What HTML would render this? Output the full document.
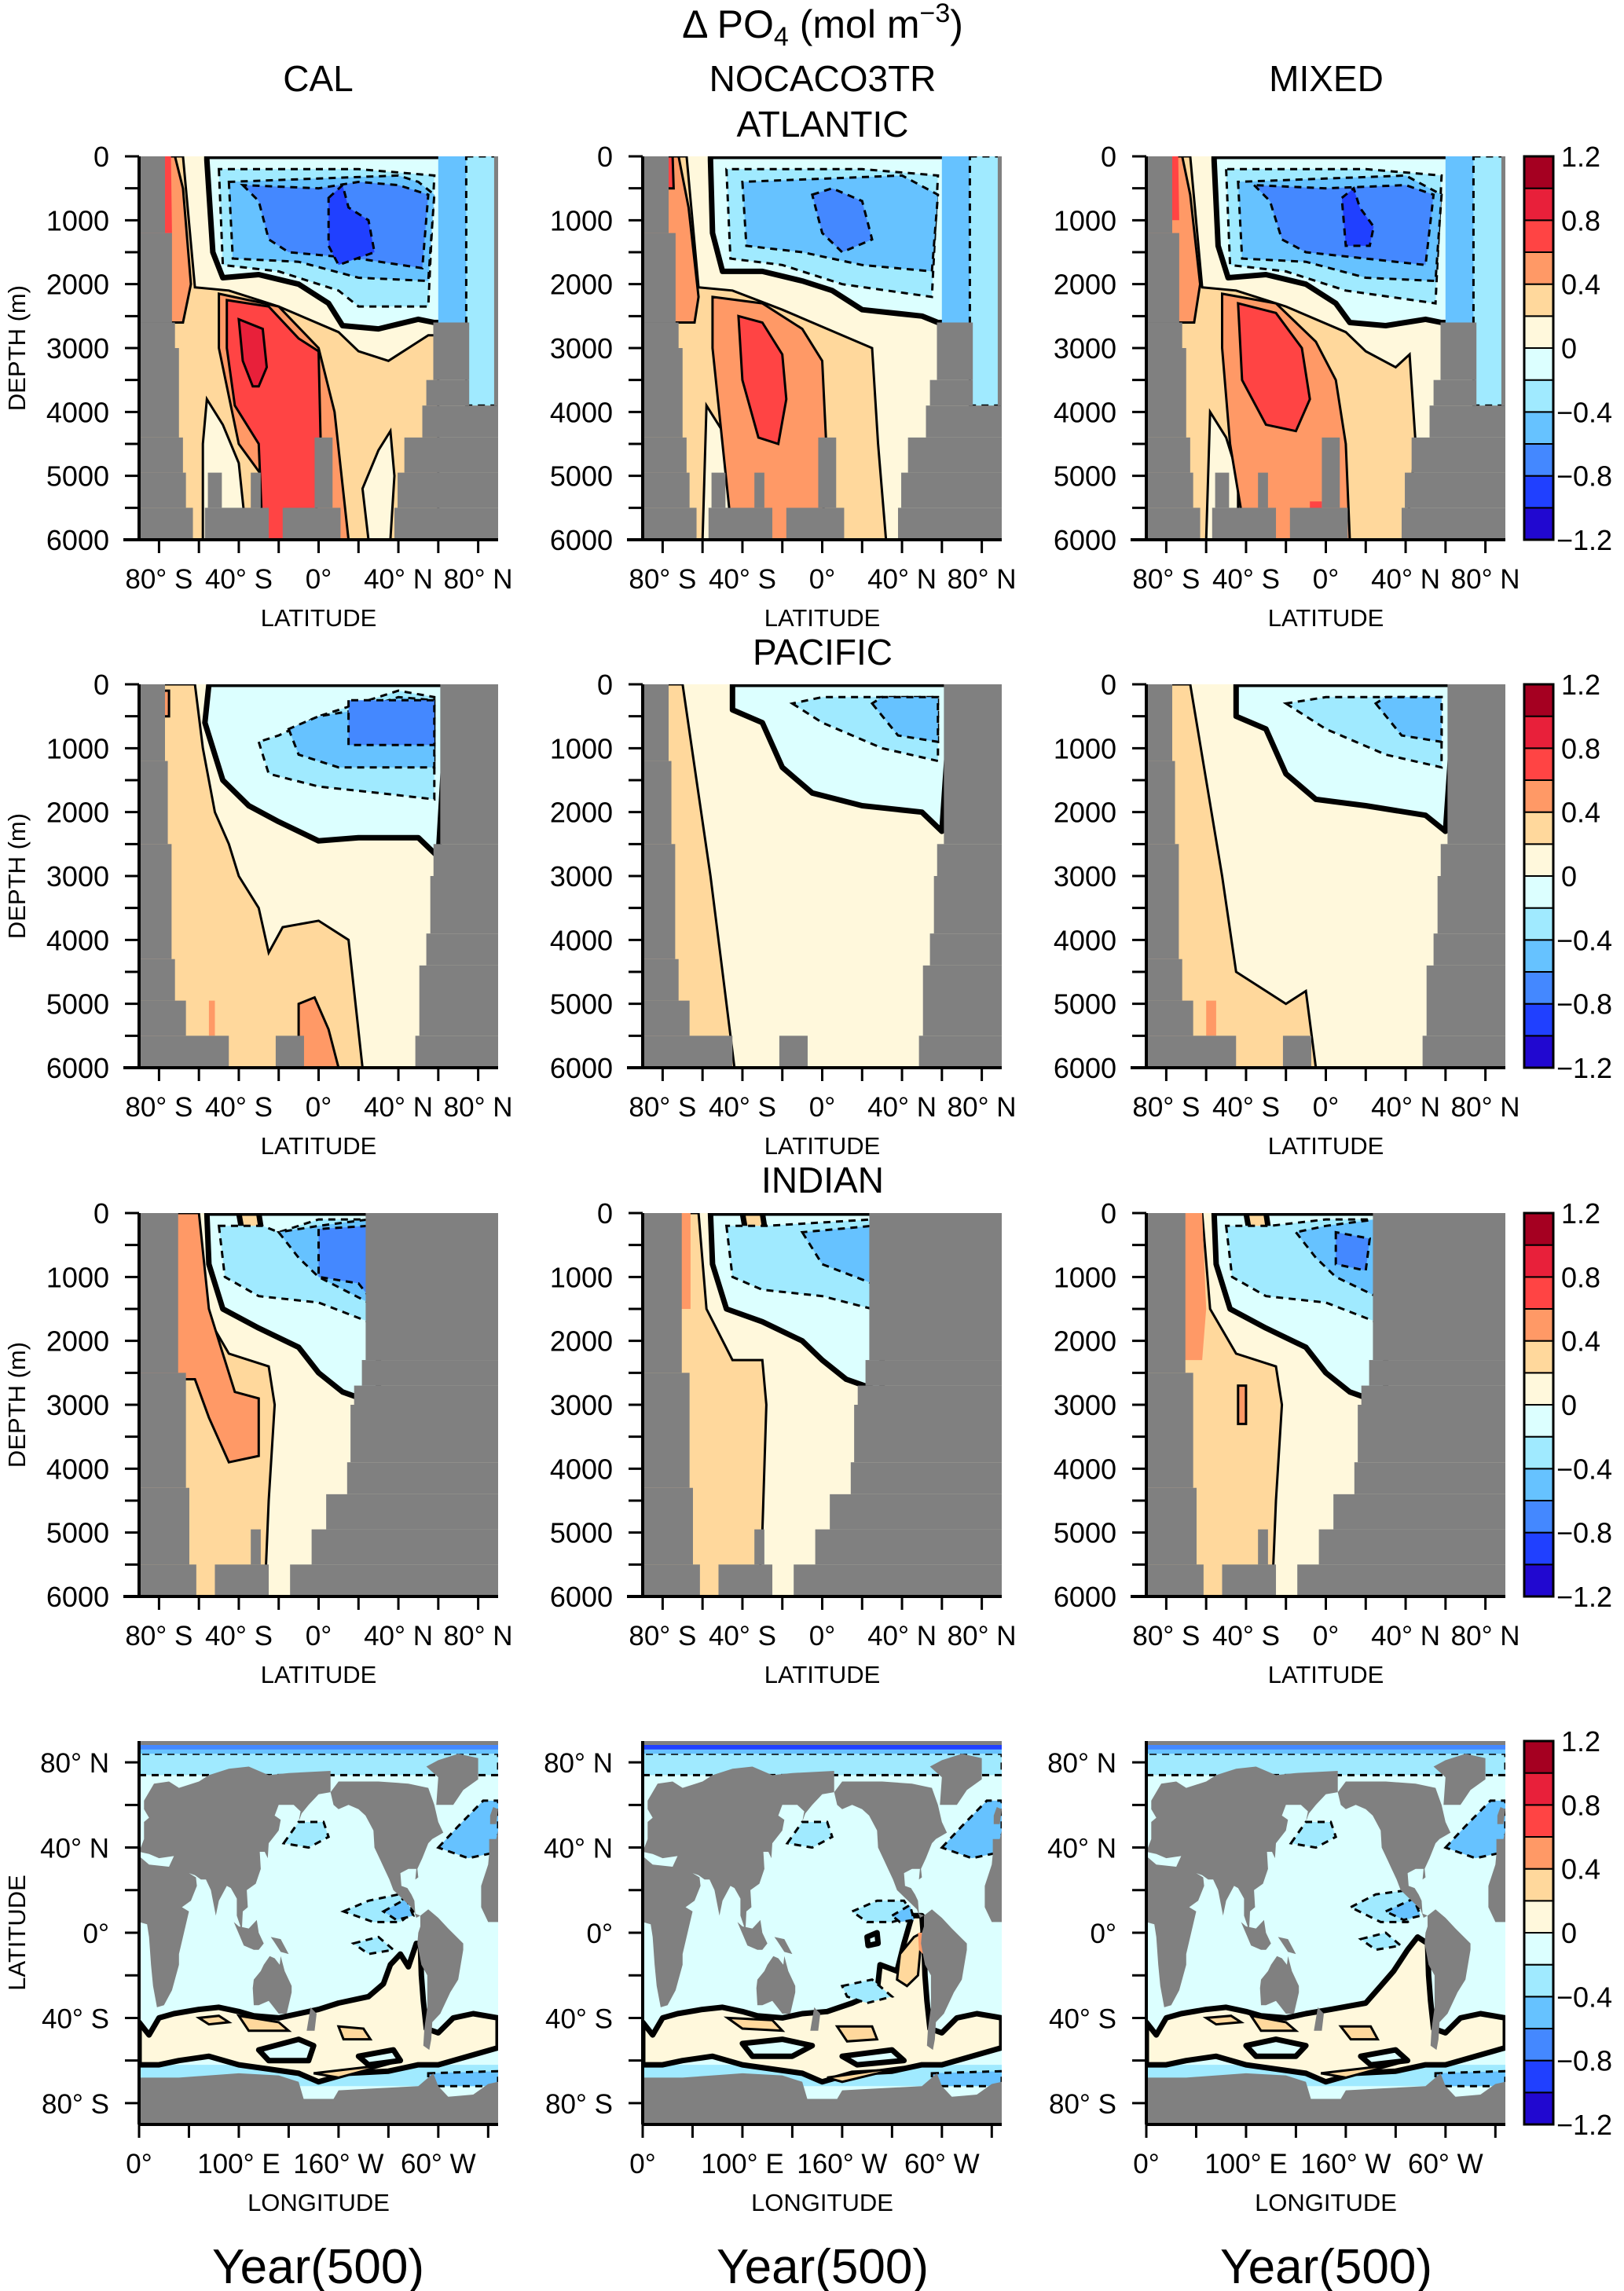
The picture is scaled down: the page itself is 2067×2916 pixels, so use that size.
<!DOCTYPE html>
<html><head><meta charset="utf-8"><title>Delta PO4</title>
<style>
html,body{margin:0;padding:0;background:#fff;}
svg{display:block;font-family:"Liberation Sans",sans-serif;}
</style></head>
<body>
<svg id="fig" width="2067" height="2916" viewBox="0 0 2067 2916" xmlns="http://www.w3.org/2000/svg">
<text x="1047" y="48" font-size="50" text-anchor="middle">Δ PO<tspan font-size="34" dy="10">4</tspan><tspan dy="-10"> (mol m</tspan><tspan font-size="34" dy="-20">−3</tspan><tspan dy="20">)</tspan></text>
<text x="405" y="116" font-size="46" text-anchor="middle">CAL</text>
<text x="1047" y="116" font-size="46" text-anchor="middle">NOCACO3TR</text>
<text x="1688" y="116" font-size="46" text-anchor="middle">MIXED</text>
<text x="1047" y="174" font-size="46" text-anchor="middle">ATLANTIC</text>
<text x="1047" y="846" font-size="46" text-anchor="middle">PACIFIC</text>
<text x="1047" y="1518" font-size="46" text-anchor="middle">INDIAN</text>
<text x="405" y="2906" font-size="62" text-anchor="middle">Year(500)</text>
<text x="1047" y="2906" font-size="62" text-anchor="middle">Year(500)</text>
<text x="1688" y="2906" font-size="62" text-anchor="middle">Year(500)</text>
</svg>
<script>
// ---------- data ----------
const colorLevels = [-1.2,-1.0,-0.8,-0.6,-0.4,-0.2,0,0.2,0.4,0.6,0.8,1.0,1.2];
const colorList = ['#2108d0','#2040ff','#4488ff','#66c2ff','#a0eaff','#dcffff','#fff8dc','#ffd89c','#ff9966','#ff4444','#e8203a','#a50021'];
const colorbarLabels = ['1.2','0.8','0.4','0','−0.4','−0.8','−1.2'];
const colorbarLabelValues = [1.2,0.8,0.4,0,-0.4,-0.8,-1.2];
const latTickValues = [-80,-60,-40,-20,0,20,40,60,80];
const latLabelValues = [-80,-40,0,40,80];
const latLabels = ['80° S','40° S','0°','40° N','80° N'];
const depthTickValues = [0,500,1000,1500,2000,2500,3000,3500,4000,4500,5000,5500,6000];
const depthLabelValues = [0,1000,2000,3000,4000,5000,6000];
const lonTickValues = [0,50,100,150,200,250,300,350];
const lonLabelValues = [0,100,200,300];
const lonLabels = ['0°','100° E','160° W','60° W'];
const mapLatLabelValues = [80,40,0,-40,-80];
const mapLatLabels = ['80° N','40° N','0°','40° S','80° S'];

// land masks for sections: [lat0, lat1, depth0, depth1]
const landAtlantic = [[-90,-77,0,1200],[-90,-73.5,1200,2600],[-90,-72,2600,3000],[-90,-70,3000,4400],[-90,-68,4400,4950],[-90,-66.5,4950,5500],[-90,-63,5500,6000],
 [-57,-25,5500,6000],[-55.5,-48.5,4950,5500],[-34,-29,4950,5500],[-18,11,5500,6000],[-2,7,4400,5500],
 [38,90,5500,6000],[39.6,90,4950,5500],[43,90,4400,4950],[52,90,3900,4400],[54,75.5,3500,3900],[57.5,75.5,2600,3500],[88,90,0,3900]];
const landPacific = [[-90,-77,0,1200],[-90,-75.6,1200,2500],[-90,-73.7,2500,4300],[-90,-72,4300,4950],[-90,-66.5,4950,5500],[-90,-45,5500,6000],[-21.5,-7.3,5500,6000],
 [48.5,90,5500,6000],[50.5,90,4400,5500],[54,90,3900,4400],[56,90,3000,3900],[57.6,90,2500,3000],[61,90,0,2500]];
const landIndian = [[-90,-70.4,0,2500],[-90,-66.5,2500,4300],[-90,-64.8,4300,5500],[-90,-61.3,5500,6000],[-52,-25,5500,6000],[-34,-29,4950,5500],
 [-14.3,90,5500,6000],[-3.5,90,4950,5500],[3.8,90,4400,4950],[14.3,90,3900,4400],[16,90,3000,3900],[17.8,90,2700,3000],[21.7,90,2300,2700],[23.6,90,0,2300]];

// field regions: [colorIndex, lineStyle, points(lat,depth)]  lineStyle: 0 none,1 thin,2 dashed,3 thick
const atlCal = [
 [7,1,[[-90,0],[-68,0],[-62,2050],[-45,2100],[-20,2350],[10,2750],[20,3050],[35,3200],[45,3000],[55,2800],[60,2800],[60,6000],[-90,6000]]],
 [6,1,[[-56,3800],[-48,4200],[-40,4800],[-36,6000],[-58,6000],[-58,4500]]],
 [6,1,[[22,5200],[30,4600],[36,4300],[38,5000],[36,6000],[25,6000]]],
 [8,1,[[-90,0],[-72,0],[-68,500],[-64,2000],[-68,2600],[-90,2600]]],
 [8,1,[[-50,2150],[-20,2350],[0,3000],[8,4000],[15,6000],[-5,6000],[-40,4500],[-50,3000]]],
 [9,0,[[-90,0],[-74,0],[-73.5,1200],[-90,1200]]],
 [9,1,[[-46,2250],[-25,2350],[-10,2850],[0,3050],[1,4400],[-2,6000],[-28,6000],[-30,4500],[-42,3900],[-46,3000]]],
 [10,1,[[-40,2550],[-28,2700],[-26,3300],[-30,3600],[-33,3600],[-38,3200]]],
 [5,3,[[-56,60],[-53,1500],[-48,1900],[-30,1850],[-10,2000],[5,2300],[12,2650],[30,2700],[50,2550],[58,2600],[95,2600],[95,0],[-56,0]]],
 [4,2,[[-50,200],[-48,1700],[-20,1800],[10,2100],[20,2350],[55,2350],[58,300],[20,200]]],
 [3,2,[[-45,400],[-43,1600],[-10,1650],[20,1900],[55,1950],[58,600],[50,400],[40,300]]],
 [3,0,[[60,0],[95,0],[95,2600],[60,2600]]],
 [4,2,[[74,0],[95,0],[95,3900],[74,3900]]],
 [2,2,[[-38,450],[-30,700],[-25,1300],[-15,1500],[20,1600],[52,1750],[55,600],[40,450],[20,400],[0,500]]],
 [1,2,[[5,650],[12,450],[15,800],[25,1000],[28,1500],[10,1700],[5,1400]]]
];
const atlNoc = [
 [7,1,[[-90,0],[-68,0],[-62,2050],[-45,2100],[-20,2400],[10,2800],[25,3000],[28,4500],[32,6000],[-90,6000]]],
 [6,1,[[-58,3900],[-50,4300],[-45,5000],[-46,6000],[-60,6000]]],
 [8,1,[[-90,0],[-72,0],[-67,800],[-62,2200],[-64,2600],[-90,2600]]],
 [8,1,[[-55,2200],[-30,2300],[-10,2700],[0,3200],[2,4500],[0,6000],[-45,6000],[-50,4500],[-55,3000]]],
 [9,1,[[-90,0],[-75,0],[-74.5,500],[-90,500]]],
 [9,1,[[-42,2500],[-30,2600],[-20,3100],[-18,3800],[-22,4500],[-32,4400],[-40,3500]]],
 [5,3,[[-56,60],[-55,1200],[-50,1800],[-30,1800],[-10,1950],[5,2100],[20,2400],[50,2500],[58,2600],[95,2600],[95,0],[-56,0]]],
 [4,2,[[-48,200],[-46,1600],[-20,1700],[10,2000],[55,2200],[58,300],[20,200]]],
 [3,2,[[-40,400],[-38,1400],[-10,1500],[20,1700],[55,1800],[58,600],[40,300]]],
 [3,0,[[60,0],[95,0],[95,2600],[60,2600]]],
 [4,2,[[74,0],[95,0],[95,3900],[74,3900]]],
 [2,2,[[-5,600],[5,500],[20,700],[25,1300],[10,1500],[0,1200]]]
];
const atlMix = [
 [7,1,[[-90,0],[-68,0],[-62,2050],[-45,2100],[-20,2350],[10,2750],[20,3050],[35,3300],[42,3100],[45,4500],[40,6000],[-90,6000]]],
 [6,1,[[-58,4000],[-50,4400],[-44,5000],[-44,6000],[-60,6000]]],
 [8,1,[[-90,0],[-72,0],[-68,600],[-63,2000],[-66,2600],[-90,2600]]],
 [8,1,[[-52,2150],[-25,2300],[-5,2900],[5,3500],[10,4500],[12,6000],[-40,6000],[-48,4500],[-52,3000]]],
 [9,0,[[-90,0],[-74,0],[-73.5,1000],[-90,1000]]],
 [9,1,[[-44,2300],[-25,2450],[-12,3000],[-8,3800],[-15,4300],[-30,4200],[-42,3500]]],
 [9,0,[[-8,5400],[-2,5400],[-2,6000],[-8,6000]]],
 [5,3,[[-56,60],[-54,1400],[-49,1900],[-30,1850],[-10,2000],[5,2300],[12,2600],[30,2650],[50,2550],[58,2600],[95,2600],[95,0],[-56,0]]],
 [4,2,[[-50,200],[-48,1700],[-20,1800],[10,2100],[55,2300],[58,300],[20,200]]],
 [3,2,[[-44,400],[-42,1600],[-10,1650],[20,1900],[55,1950],[58,600],[40,300]]],
 [3,0,[[60,0],[95,0],[95,2600],[60,2600]]],
 [4,2,[[74,0],[95,0],[95,3900],[74,3900]]],
 [2,2,[[-36,450],[-28,700],[-22,1300],[-10,1500],[20,1600],[50,1700],[54,600],[40,450],[0,500]]],
 [1,2,[[8,650],[14,500],[17,800],[24,1100],[22,1400],[10,1400]]]
];
const pacCal = [
 [7,1,[[-90,0],[-62,0],[-58,1000],[-52,2000],[-45,2500],[-40,3000],[-30,3500],[-25,4200],[-18,3800],[0,3700],[15,4000],[22,6000],[-90,6000]]],
 [8,1,[[-10,5000],[-2,4900],[5,5400],[10,6000],[-10,6000]]],
 [8,0,[[-55,4950],[-52,4950],[-52,5500],[-55,5500]]],
 [8,1,[[-80,100],[-75,100],[-75,500],[-80,500]]],
 [5,3,[[-55,0],[-57,600],[-48,1500],[-35,1900],[-20,2150],[0,2450],[20,2400],[50,2400],[60,2700],[65,0]]],
 [4,2,[[-30,900],[-25,1400],[0,1600],[30,1700],[58,1800],[58,200],[40,100],[20,300],[0,500],[-20,800]]],
 [3,2,[[-15,700],[-10,1100],[10,1300],[58,1300],[58,250],[40,200],[20,400],[0,500]]],
 [2,2,[[15,250],[15,950],[58,950],[58,250]]]
];
const pacNoc = [
 [7,1,[[-90,0],[-70,0],[-63,1500],[-56,3000],[-50,4500],[-44,6000],[-90,6000]]],
 [5,3,[[-45,0],[-45,400],[-30,600],[-20,1300],[-5,1700],[20,1900],[50,2000],[60,2300],[65,0]]],
 [4,2,[[-15,300],[0,600],[30,1000],[58,1200],[58,200],[0,200]]],
 [3,2,[[25,300],[38,800],[58,900],[58,200],[30,200]]]
];
const pacMix = [
 [7,1,[[-90,0],[-68,0],[-60,1500],[-52,3000],[-45,4500],[-30,4800],[-20,5000],[-10,4800],[-5,6000],[-90,6000]]],
 [8,0,[[-60,4950],[-55,4950],[-55,5500],[-60,5500]]],
 [5,3,[[-45,0],[-45,500],[-30,700],[-20,1400],[-5,1800],[20,1900],[50,2050],[60,2300],[65,0]]],
 [4,2,[[-20,300],[0,700],[30,1100],[58,1300],[58,200],[0,200]]],
 [3,2,[[25,300],[38,800],[58,900],[58,200],[30,200]]]
];
const indCal = [
 [7,1,[[-90,0],[-62,0],[-58,1500],[-45,2200],[-25,2400],[-22,3000],[-25,4500],[-27,6000],[-90,6000]]],
 [8,1,[[-90,0],[-60,0],[-55,1500],[-48,2200],[-42,2800],[-30,2900],[-30,3800],[-45,3900],[-55,3200],[-62,2600],[-90,2600]]],
 [5,3,[[-56,0],[-55,800],[-48,1500],[-30,1800],[-10,2100],[0,2500],[12,2800],[30,3000],[30,0]]],
 [7,3,[[-40,0],[-36,700],[-30,800],[-28,400],[-30,0]]],
 [4,2,[[-50,200],[-47,1000],[-30,1300],[0,1400],[25,1700],[25,100],[0,100],[-20,300],[-28,200]]],
 [3,2,[[-20,300],[-10,700],[0,1000],[25,1400],[25,100],[0,200]]],
 [2,2,[[0,250],[0,1000],[20,1100],[25,1300],[25,200]]]
];
const indNoc = [
 [7,1,[[-90,0],[-62,0],[-58,1500],[-45,2300],[-30,2300],[-28,3000],[-30,5000],[-32,6000],[-90,6000]]],
 [8,0,[[-90,0],[-66,0],[-66,1500],[-90,1500]]],
 [5,3,[[-56,0],[-55,800],[-48,1500],[-30,1700],[-10,2000],[0,2300],[12,2600],[30,2800],[30,0]]],
 [7,3,[[-40,0],[-36,700],[-30,800],[-28,400],[-30,0]]],
 [4,2,[[-48,200],[-45,1000],[-30,1200],[0,1300],[25,1500],[25,100],[-28,200]]],
 [3,2,[[-10,300],[0,800],[25,1100],[25,200]]]
];
const indMix = [
 [7,1,[[-90,0],[-62,0],[-58,1500],[-45,2200],[-25,2400],[-22,3000],[-25,4500],[-27,6000],[-90,6000]]],
 [8,0,[[-90,0],[-62,0],[-60,1500],[-62,2300],[-90,2300]]],
 [8,1,[[-44,2700],[-40,2700],[-40,3300],[-44,3300]]],
 [5,3,[[-56,0],[-55,800],[-48,1500],[-30,1800],[-10,2100],[0,2500],[12,2800],[30,3000],[30,0]]],
 [7,3,[[-40,0],[-36,700],[-30,800],[-28,400],[-30,0]]],
 [4,2,[[-50,200],[-47,1000],[-30,1300],[0,1400],[25,1700],[25,100],[0,100],[-28,200]]],
 [3,2,[[-15,300],[-5,700],[5,1000],[25,1300],[25,100],[0,200]]],
 [2,2,[[5,300],[5,800],[20,900],[22,400]]]
];

// map land polygons (lon 0..360, lat)
const landMap = [
 [[0,5],[8,4],[10,-2],[12,-15],[14,-25],[18,-35],[25,-34],[33,-27],[40,-15],[40,-10],[50,10],[43,12],[52,15],[58,22],[57,26],[50,28],[56,27],[62,25],[67,25],[72,20],[77,8],[80,15],[88,22],[92,21],[98,16],[98,8],[103,1],[104,10],[109,12],[108,20],[117,23],[122,30],[121,38],[126,38],[129,35],[130,42],[140,48],[142,53],[136,55],[140,60],[155,60],[162,57],[160,52],[163,56],[170,60],[180,65],[192,66],[192,76],[150,75],[130,74],[110,78],[90,77],[70,74],[60,71],[40,68],[30,71],[15,70],[5,62],[5,58],[10,54],[5,52],[5,44],[0,38],[10,37],[20,35],[35,36],[30,31],[10,32],[0,36]],
 [[360,5],[350,5],[343,12],[343,22],[350,32],[351,37],[351,44],[358,44],[360,48]],
 [[352,51],[358,51],[360,58],[355,59],[352,55]],
 [[192,66],[200,71],[240,71],[270,70],[290,68],[296,60],[300,52],[305,47],[294,44],[290,42],[284,35],[279,30],[280,26],[277,25],[278,30],[270,30],[262,28],[263,22],[269,21],[273,18],[276,15],[277,9],[282,8],[278,7],[275,11],[266,15],[255,20],[251,25],[245,31],[242,34],[236,40],[235,48],[227,55],[220,58],[210,60],[200,58],[195,60]],
 [[282,8],[290,11],[300,7],[310,2],[325,-5],[325,-8],[320,-22],[312,-28],[302,-38],[294,-42],[293,-50],[291,-55],[285,-53],[286,-45],[289,-35],[289,-20],[283,-15],[279,-5],[280,0],[282,3]],
 [[298,60],[315,60],[325,67],[340,72],[340,82],[320,84],[300,81],[288,78],[300,73]],
 [[115,-22],[114,-26],[115,-34],[120,-34],[130,-32],[135,-35],[140,-38],[148,-38],[153,-28],[153,-25],[146,-18],[142,-11],[141,-15],[136,-12],[131,-11],[125,-15],[122,-18]],
 [[95,5],[105,-6],[115,-8],[120,-8],[125,-5],[120,0],[118,6],[110,2],[100,3]],
 [[132,-2],[142,-3],[150,-10],[142,-9],[135,-4]],
 [[172,-35],[178,-38],[176,-46],[168,-46]],
 [[0,-68],[40,-68],[70,-67],[100,-66],[140,-67],[160,-70],[165,-78],[195,-78],[200,-74],[240,-73],[280,-72],[295,-66],[300,-72],[310,-77],[335,-76],[350,-71],[360,-70],[360,-91],[0,-91]]
];
// map field regions: [colorIndex, lineStyle, points(lon,lat)]
const mapCommon = [
 [4,2,[[0,74],[360,74],[360,84],[0,84]]],
 [3,0,[[0,84],[360,84],[360,91],[0,91]]],
 [3,2,[[300,40],[320,50],[345,62],[360,62],[360,38],[330,35]]],
 [4,2,[[145,42],[160,52],[185,52],[190,45],[170,40]]],
 [4,0,[[0,-62],[360,-62],[360,-72],[0,-72]]],
 [3,2,[[290,-66],[360,-65],[360,-72],[290,-72]]],
 [4,2,[[30,-50],[55,-46],[75,-52],[70,-58],[40,-58]]]
];
const mapCal = [
 [2,0,[[0,86],[360,86],[360,91],[0,91]]],
 [6,3,[[0,-42],[10,-48],[20,-40],[35,-38],[60,-36],[80,-35],[100,-37],[115,-39],[140,-40],[160,-38],[180,-36],[200,-33],[230,-30],[245,-24],[252,-15],[262,-10],[270,-16],[278,-5],[282,-5],[283,-20],[285,-32],[288,-45],[300,-47],[315,-40],[335,-38],[360,-40],[360,-54],[330,-58],[300,-62],[280,-62],[250,-65],[210,-66],[180,-70],[160,-66],[130,-64],[100,-62],[70,-58],[40,-60],[20,-62],[0,-62]]],
 [5,3,[[120,-55],[160,-50],[175,-53],[170,-60],[130,-60]]],
 [5,3,[[220,-58],[255,-55],[262,-60],[230,-62]]],
 [7,1,[[60,-40],[80,-39],[90,-42],[70,-43]]],
 [7,1,[[100,-39],[140,-42],[150,-46],[110,-46]]],
 [7,1,[[200,-44],[225,-45],[232,-50],[205,-50]]],
 [7,1,[[175,-66],[230,-63],[255,-61],[200,-68]]],
 [4,2,[[205,10],[230,15],[260,18],[275,10],[262,5],[235,5]]],
 [4,2,[[215,-5],[240,-2],[255,-8],[230,-10]]],
 [3,2,[[245,10],[268,16],[275,8],[258,6]]]
];
const mapNoc = [
 [1,0,[[0,86],[360,86],[360,91],[0,91]]],
 [6,3,[[0,-42],[10,-48],[20,-40],[35,-38],[60,-36],[80,-35],[100,-37],[115,-39],[140,-40],[160,-38],[185,-37],[210,-33],[235,-28],[238,-15],[255,-18],[262,-5],[270,8],[280,8],[282,-5],[283,-20],[285,-32],[288,-45],[300,-47],[315,-40],[335,-38],[360,-40],[360,-54],[330,-58],[300,-62],[280,-62],[250,-65],[210,-66],[180,-70],[160,-66],[130,-64],[100,-62],[70,-58],[40,-60],[20,-62],[0,-62]]],
 [5,3,[[225,-2],[235,0],[236,-5],[226,-6]]],
 [5,3,[[100,-52],[140,-50],[170,-53],[150,-58],[110,-58]]],
 [5,3,[[200,-58],[250,-55],[262,-60],[215,-62]]],
 [7,1,[[258,-10],[272,-2],[280,0],[276,-20],[265,-25],[255,-22]]],
 [8,0,[[276,0],[281,0],[281,-10],[277,-8]]],
 [7,1,[[85,-40],[130,-41],[140,-46],[100,-45]]],
 [7,1,[[195,-44],[230,-44],[235,-50],[205,-51]]],
 [7,1,[[185,-68],[230,-65],[262,-63],[200,-70]]],
 [4,2,[[210,10],[235,15],[262,15],[272,8],[250,5],[225,5]]],
 [4,2,[[200,-25],[230,-22],[250,-30],[225,-33],[205,-30]]],
 [3,2,[[250,8],[268,13],[272,6],[258,5]]]
];
const mapMix = [
 [2,0,[[0,86],[360,86],[360,91],[0,91]]],
 [6,3,[[0,-42],[10,-48],[20,-40],[35,-38],[60,-36],[80,-35],[100,-37],[115,-39],[140,-40],[160,-38],[185,-36],[220,-33],[235,-25],[248,-18],[262,-8],[272,-2],[282,-5],[283,-20],[285,-32],[288,-45],[300,-47],[315,-40],[335,-38],[360,-40],[360,-54],[330,-58],[300,-62],[280,-62],[250,-65],[210,-66],[180,-70],[160,-66],[130,-64],[100,-62],[70,-58],[40,-60],[20,-62],[0,-62]]],
 [5,3,[[100,-53],[130,-50],[160,-53],[150,-58],[110,-58]]],
 [5,3,[[215,-58],[250,-55],[262,-60],[225,-62]]],
 [7,1,[[60,-40],[85,-39],[95,-42],[70,-43]]],
 [7,1,[[105,-39],[140,-42],[150,-46],[115,-46]]],
 [7,1,[[195,-44],[225,-44],[232,-50],[205,-50]]],
 [7,1,[[175,-66],[230,-63],[255,-61],[200,-68]]],
 [4,2,[[205,12],[230,18],[262,20],[275,10],[262,5],[235,5]]],
 [4,2,[[215,-3],[240,0],[255,-6],[230,-8]]],
 [3,2,[[240,10],[268,16],[275,8],[258,6]]]
];

// ---------- layout ----------
const colX = [177, 818, 1459];
const rowY = [199, 871, 1544, 2216];
const PW = 457, PH = 488;
const NS = 'http://www.w3.org/2000/svg';
const svg = document.getElementById('fig');

function mk(tag, attrs, parent){
  const e = document.createElementNS(NS, tag);
  for (const k in attrs) e.setAttribute(k, attrs[k]);
  (parent || svg).appendChild(e);
  return e;
}
function styleFor(ls){
  if (ls === 0) return {stroke:'none'};
  if (ls === 1) return {stroke:'#000','stroke-width':3,fill:'none'};
  if (ls === 2) return {stroke:'#000','stroke-width':3,'stroke-dasharray':'9 7'};
  return {stroke:'#000','stroke-width':7,'stroke-linejoin':'round'};
}
let clipId = 0;
function panelGroup(x0,y0,name){
  const cid = 'clip' + (clipId++);
  const defs = mk('defs',{});
  const cp = mk('clipPath',{id:cid},defs);
  mk('rect',{x:x0,y:y0,width:PW,height:PH},cp);
  const g = mk('g',{'clip-path':'url(#'+cid+')'});
  
  
  return g;
}
function drawRegions(g, regions, fx, fy, nameBase){
  regions.forEach((r,i)=>{
    const pts = r[2].map(p=>fx(p[0]).toFixed(1)+','+fy(p[1]).toFixed(1)).join(' ');
    const st = styleFor(r[1]);
    const p = mk('polygon',Object.assign({points:pts},st,{fill:colorList[r[0]]}),g);
    
    
  });
}
function section(ci, ri, land, regions, name){
  const x0 = colX[ci], y0 = rowY[ri];
  const fx = lat => x0 + (lat + 90) / 180 * PW;
  const fy = d => y0 + d / 6000 * PH;
  const g = panelGroup(x0,y0,name);
  mk('rect',{x:x0,y:y0,width:PW,height:PH,fill:colorList[6]},g);
  drawRegions(g, regions, fx, fy, name);
  land.forEach((r,i)=>{
    const e = mk('rect',{x:fx(r[0]),y:fy(r[2]),width:fx(r[1])-fx(r[0]),height:fy(r[3])-fy(r[2]),fill:'#808080'},g);
    
    
  });
  // axes
  const ax = mk('g',{});
  
  
  mk('line',{x1:x0,y1:y0,x2:x0,y2:y0+PH,stroke:'#000','stroke-width':4},ax);
  mk('line',{x1:x0-20,y1:y0+PH,x2:x0+PW,y2:y0+PH,stroke:'#000','stroke-width':4},ax);
  depthTickValues.forEach(d=>mk('line',{x1:x0-18,y1:fy(d),x2:x0,y2:fy(d),stroke:'#000','stroke-width':3},ax));
  depthLabelValues.forEach(d=>{
    const t = mk('text',{x:x0-38,y:fy(d)+13,'font-size':36,'text-anchor':'end'},ax);
    t.textContent = String(d);
  });
  latTickValues.forEach(l=>mk('line',{x1:fx(l),y1:y0+PH,x2:fx(l),y2:y0+PH+17,stroke:'#000','stroke-width':3},ax));
  latLabelValues.forEach((l,i)=>{
    const t = mk('text',{x:fx(l),y:y0+PH+62,'font-size':35,'text-anchor':'middle'},ax);
    t.textContent = latLabels[i];
  });
  const xl = mk('text',{x:x0+PW/2,y:y0+PH+110,'font-size':31,'text-anchor':'middle'},ax);
  xl.textContent = 'LATITUDE';
  if (ci === 0){
    const yl = mk('text',{x:0,y:0,'font-size':31,'text-anchor':'middle',transform:'translate(32,'+(y0+PH/2)+') rotate(-90)'},ax);
    
    
    yl.textContent = 'DEPTH (m)';
  }
}
function mapPanel(ci, regions, name){
  const x0 = colX[ci], y0 = rowY[3];
  const fx = lon => x0 + lon / 360 * PW;
  const fy = lat => y0 + (90 - lat) / 180 * PH;
  const g = panelGroup(x0,y0,name);
  mk('rect',{x:x0,y:y0,width:PW,height:PH,fill:colorList[5]},g);
  drawRegions(g, mapCommon, fx, fy, name + '-common');
  drawRegions(g, regions, fx, fy, name);
  landMap.forEach((poly,i)=>{
    const pts = poly.map(p=>fx(p[0]).toFixed(1)+','+fy(p[1]).toFixed(1)).join(' ');
    const e = mk('polygon',{points:pts,fill:'#808080'},g);
    
    
  });
  mk('rect',{x:x0,y:y0,width:PW,height:5,fill:'#808080'},g);
  const ax = mk('g',{});
  
  
  mk('line',{x1:x0,y1:y0,x2:x0,y2:y0+PH,stroke:'#000','stroke-width':4},ax);
  mk('line',{x1:x0,y1:y0+PH,x2:x0+PW,y2:y0+PH,stroke:'#000','stroke-width':4},ax);
  latTickValues.forEach(l=>mk('line',{x1:x0-18,y1:fy(l),x2:x0,y2:fy(l),stroke:'#000','stroke-width':3},ax));
  mapLatLabelValues.forEach((l,i)=>{
    const t = mk('text',{x:x0-38,y:fy(l)+13,'font-size':35,'text-anchor':'end'},ax);
    t.textContent = mapLatLabels[i];
  });
  lonTickValues.forEach(l=>mk('line',{x1:fx(l),y1:y0+PH,x2:fx(l),y2:y0+PH+17,stroke:'#000','stroke-width':3},ax));
  lonLabelValues.forEach((l,i)=>{
    const t = mk('text',{x:fx(l),y:y0+PH+62,'font-size':35,'text-anchor':'middle'},ax);
    t.textContent = lonLabels[i];
  });
  const xl = mk('text',{x:x0+PW/2,y:y0+PH+110,'font-size':31,'text-anchor':'middle'},ax);
  xl.textContent = 'LONGITUDE';
  if (ci === 0){
    const yl = mk('text',{x:0,y:0,'font-size':31,'text-anchor':'middle',transform:'translate(32,'+(y0+PH/2)+') rotate(-90)'},ax);
    
    
    yl.textContent = 'LATITUDE';
  }
}
function colorbar(ri){
  const y0 = rowY[ri], x0 = 1940, w = 37;
  const g = mk('g',{});
  
  
  const n = colorList.length;
  const lo = colorLevels[0], hi = colorLevels[colorLevels.length-1];
  const fy = v => y0 + (hi - v) / (hi - lo) * PH;
  colorList.forEach((c,i)=>{
    const r = mk('rect',{x:x0,y:fy(colorLevels[i+1]),width:w,height:fy(colorLevels[i])-fy(colorLevels[i+1]),fill:c,stroke:'#000','stroke-width':2},g);
    
    
  });
  mk('rect',{x:x0,y:y0,width:w,height:PH,fill:'none',stroke:'#000','stroke-width':3},g);
  colorbarLabelValues.forEach((v,i)=>{
    const t = mk('text',{x:x0+w+(v<0?4:10),y:fy(v)+13,'font-size':36},g);
    t.textContent = colorbarLabels[i];
  });
}

section(0,0,landAtlantic,atlCal,'atlantic-cal-panel');
section(1,0,landAtlantic,atlNoc,'atlantic-nocaco3tr-panel');
section(2,0,landAtlantic,atlMix,'atlantic-mixed-panel');
section(0,1,landPacific,pacCal,'pacific-cal-panel');
section(1,1,landPacific,pacNoc,'pacific-nocaco3tr-panel');
section(2,1,landPacific,pacMix,'pacific-mixed-panel');
section(0,2,landIndian,indCal,'indian-cal-panel');
section(1,2,landIndian,indNoc,'indian-nocaco3tr-panel');
section(2,2,landIndian,indMix,'indian-mixed-panel');
mapPanel(0,mapCal,'surface-map-cal');
mapPanel(1,mapNoc,'surface-map-nocaco3tr');
mapPanel(2,mapMix,'surface-map-mixed');
[0,1,2,3].forEach(colorbar);
</script>
</body></html>
